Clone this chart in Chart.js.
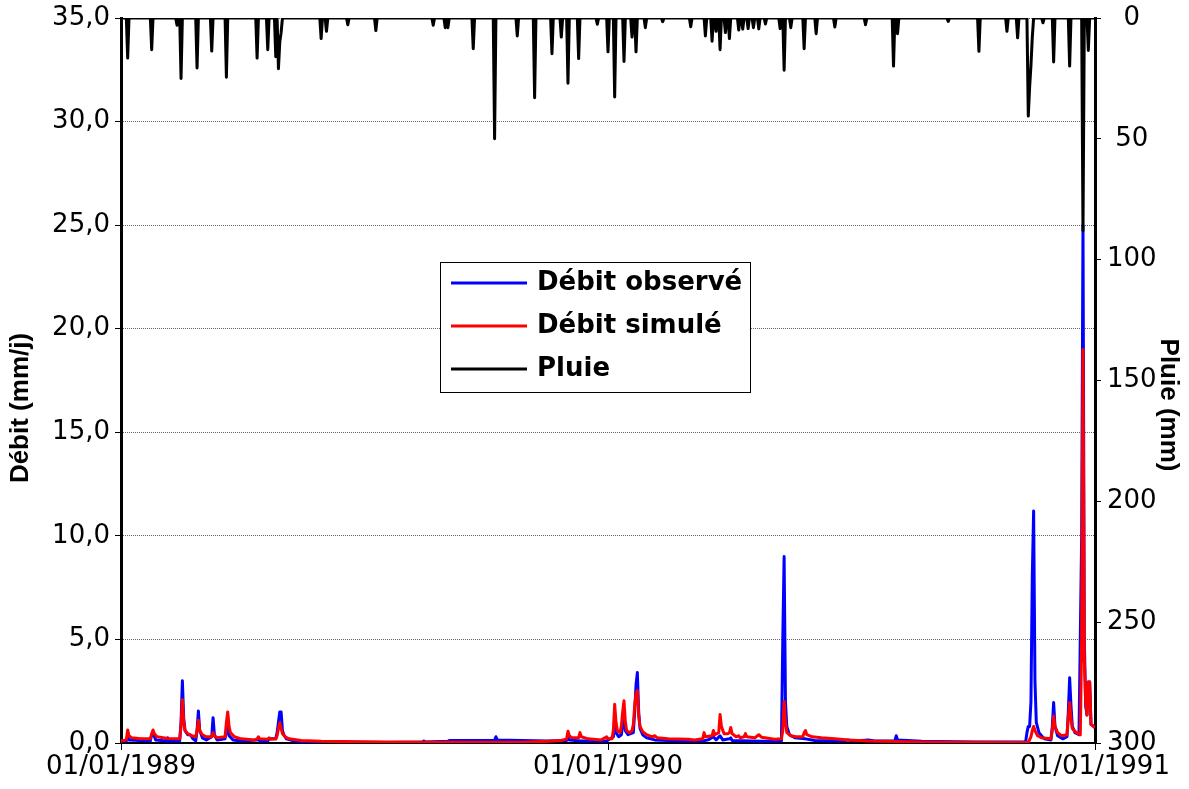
<!DOCTYPE html>
<html>
<head>
<meta charset="utf-8">
<title>Débit et pluie 1989-1990</title>
<script src="https://cdn.jsdelivr.net/npm/chart.js"></script>
<style>
  html, body { margin: 0; padding: 0; background: #fff; }
  canvas { display: block; }
</style>
</head>
<body>
<canvas id="graphe" width="1189" height="789"></canvas>
<script>
// jours comptés depuis le 01/01/1989
const joursDates = [0, 365, 730];
const etiquettesDates = ['01/01/1989', '01/01/1990', '01/01/1991'];

// débit observé (mm/j) : [jour, valeur]
const debitObserve = [
  [0,0.1],[4,0.1],[5,0.3],[6,0.15],[22,0.1],[23,0.4],[24,0.5],[26,0.15],[34,0.1],[35,0.25],[36,0.1],
  [44,0.1],[45,1.0],[46,3.0],[47,1.2],[48,0.6],[50,0.4],[52,0.4],[54,0.2],[56,0.1],[57,0.6],[58,1.55],
  [59,0.6],[61,0.25],[64,0.15],[68,0.3],[69,1.22],[70,0.4],[72,0.15],[78,0.2],[79,0.6],[80,0.75],[81,0.35],
  [84,0.15],[90,0.1],[102,0.15],[103,0.2],[104,0.1],[110,0.1],[111,0.2],[116,0.2],[117,0.5],[118,1.0],
  [119,1.5],[120,1.5],[121,0.6],[122,0.4],[124,0.2],[130,0.1],[140,0.05],[150,0.04],[200,0.03],[226,0.05],
  [227,0.1],[228,0.05],[245,0.08],[246,0.12],[260,0.12],[280,0.12],[281,0.3],[282,0.15],[300,0.12],
  [320,0.1],[334,0.12],[335,0.3],[336,0.15],[345,0.1],[364,0.1],[369,0.3],[370,0.85],[371,0.5],[373,0.3],
  [375,0.4],[376,0.9],[377,1.35],[378,0.6],[380,0.4],[384,0.5],[385,1.5],[386,2.8],[387,3.4],[388,1.5],
  [389,0.7],[391,0.4],[394,0.25],[400,0.15],[420,0.1],[436,0.1],[440,0.15],[444,0.3],[446,0.15],[449,0.35],
  [451,0.15],[456,0.2],[457,0.25],[458,0.12],[480,0.08],[495,0.1],[496,5.0],[497,9.0],[498,2.0],[499,0.8],
  [501,0.4],[505,0.25],[513,0.2],[520,0.12],[540,0.1],[545,0.15],[550,0.1],[560,0.15],[565,0.1],[580,0.1],
  [581,0.35],[582,0.15],[600,0.08],[640,0.05],[678,0.05],[679,0.5],[680,0.8],[681,0.8],[682,2.0],[683,8.0],
  [684,11.2],[685,3.0],[686,1.0],[688,0.5],[692,0.2],[697,0.15],[698,0.8],[699,1.95],[700,0.8],[702,0.35],
  [706,0.2],[709,0.3],[710,1.5],[711,3.15],[712,1.8],[713,0.8],[715,0.5],[718,0.4],[720,10.0],[721,25.0],
  [722,5.0],[723,1.8],[724,1.35],[725,2.95],[726,2.95],[727,0.9],[730,0.75]
];

// débit simulé (mm/j) : [jour, valeur]
const debitSimule = [
  [0,0.1],[4,0.15],[5,0.63],[6,0.35],[8,0.25],[15,0.2],[22,0.2],[23,0.45],[24,0.63],[25,0.45],[27,0.3],
  [35,0.22],[44,0.2],[45,0.8],[46,2.1],[47,1.0],[48,0.6],[50,0.45],[53,0.35],[56,0.3],[57,0.6],[58,1.1],
  [59,0.6],[61,0.4],[64,0.3],[68,0.3],[69,0.5],[70,0.35],[72,0.25],[78,0.3],[79,1.0],[80,1.5],[81,0.8],
  [82,0.5],[85,0.3],[90,0.2],[100,0.15],[102,0.2],[103,0.3],[104,0.2],[110,0.18],[111,0.25],[112,0.18],
  [116,0.2],[117,0.35],[118,0.7],[119,0.98],[120,0.7],[121,0.45],[123,0.3],[126,0.2],[135,0.12],[150,0.08],
  [200,0.05],[260,0.04],[300,0.04],[320,0.08],[330,0.12],[334,0.2],[335,0.57],[336,0.35],[338,0.25],
  [343,0.25],[344,0.5],[345,0.3],[350,0.2],[360,0.15],[364,0.3],[365,0.2],[368,0.2],[369,0.6],[370,1.87],
  [371,1.0],[372,0.6],[374,0.5],[375,0.8],[376,1.5],[377,2.04],[378,1.0],[379,0.6],[381,0.5],[383,0.6],
  [384,0.9],[385,1.8],[386,2.4],[387,2.53],[388,1.3],[389,0.8],[391,0.55],[394,0.4],[398,0.3],[400,0.35],
  [402,0.25],[410,0.2],[425,0.18],[430,0.15],[436,0.2],[437,0.5],[438,0.3],[443,0.35],[444,0.6],[445,0.4],
  [448,0.5],[449,1.38],[450,0.8],[452,0.45],[455,0.45],[456,0.5],[457,0.75],[458,0.45],[461,0.3],[463,0.35],
  [464,0.25],[467,0.3],[468,0.45],[469,0.3],[475,0.25],[478,0.4],[480,0.28],[490,0.18],[495,0.2],[496,0.6],
  [497,2.0],[498,1.0],[499,0.5],[502,0.35],[506,0.3],[511,0.3],[512,0.5],[513,0.6],[514,0.4],[518,0.3],
  [525,0.25],[535,0.2],[545,0.15],[560,0.1],[600,0.05],[680,0.03],[682,0.3],[683,0.6],[684,0.8],[685,0.6],
  [687,0.35],[690,0.25],[697,0.2],[698,0.6],[699,1.3],[700,0.8],[702,0.5],[705,0.35],[709,0.4],[710,1.2],
  [711,1.95],[712,1.2],[713,0.7],[716,0.5],[719,0.4],[720,5.0],[721,19.0],[722,4.0],[723,2.0],[724,1.35],
  [725,2.95],[726,2.95],[727,0.9],[730,0.75]
];

// pluie journalière (mm) : [jour, hauteur], les autres jours sont secs
const pluie = [
  [5,16.6],[23,13.1],[42,3],[45,25],[57,20.7],[68,13.7],[79,24.5],[102,16.6],[110,13.1],[116,16],[118,21],
  [119,10],[120,6],[150,8.5],[154,5.5],[170,2.8],[191,5.2],[234,3],[243,4],[245,4],[264,12.7],[280,50],
  [297,7.4],[310,33],[323,14.8],[330,7.9],[335,27],[343,16.8],[357,2.6],[365,14],[370,32.7],[377,18],
  [383,7.9],[386,14],[393,4],[406,1.5],[427,3.6],[438,7.4],[443,9.6],[446,5.5],[449,13.1],[453,6],[456,8.5],
  [463,5],[466,4.6],[470,4.4],[474,4],[478,4.5],[483,2.5],[494,4.4],[497,21.6],[502,4],[512,12.7],[521,6.5],
  [535,3.7],[558,2.8],[579,19.9],[582,6.5],[620,1.4],[643,13.8],[664,5.5],[672,8.2],[680,40.6],[681,28.6],
  [682,19.6],[683,8],[691,2],[699,18.2],[711,19.9],[721,88],[725,13.4]
];

const enPoints = serie => serie.map(([x, y]) => ({ x, y }));

// série journalière complète pour la pluie
const pluieParJour = new Map(pluie);
const pluieJournaliere = [];
for (let j = 0; j <= 730; j++) {
  pluieJournaliere.push({ x: j, y: pluieParJour.get(j) || 0 });
}

const virgule = v => v.toFixed(1).replace('.', ',');

// les axes verticaux gardent une largeur fixe, sans marge pour leurs étiquettes
const largeurFixe = largeur => scale => {
  scale.width = largeur;
  scale.paddingTop = 0;
  scale.paddingBottom = 0;
};

// légende encadrée au milieu du graphique
const legendeEncadree = {
  id: 'legendeEncadree',
  afterDraw(chart) {
    const ctx = chart.ctx;
    const x = 440, y = 262, w = 310, h = 130;
    ctx.save();
    ctx.fillStyle = '#fff';
    ctx.fillRect(x, y, w, h);
    ctx.strokeStyle = '#000';
    ctx.lineWidth = 1;
    ctx.strokeRect(x + 0.5, y + 0.5, w, h);
    ctx.font = 'bold 26px "DejaVu Sans"';
    ctx.textBaseline = 'middle';
    ctx.textAlign = 'left';
    chart.data.datasets.forEach((ds, k) => {
      const ly = y + 21 + k * 43;
      ctx.strokeStyle = ds.borderColor;
      ctx.lineWidth = 3;
      ctx.beginPath();
      ctx.moveTo(x + 11, ly);
      ctx.lineTo(x + 87, ly);
      ctx.stroke();
      ctx.fillStyle = '#000';
      ctx.fillText(ds.label, x + 97, ly);
    });
    ctx.restore();
  }
};

// titres des axes verticaux
const titresAxes = {
  id: 'titresAxes',
  afterDraw(chart) {
    const ctx = chart.ctx;
    ctx.save();
    ctx.font = 'bold 26px "Liberation Sans"';
    ctx.fillStyle = '#000';
    ctx.textAlign = 'center';
    ctx.textBaseline = 'middle';
    ctx.translate(21, 408);
    ctx.rotate(-Math.PI / 2);
    ctx.fillText('Débit (mm/j)', 0, 0);
    ctx.restore();
    ctx.save();
    ctx.font = 'bold 26px "Liberation Sans"';
    ctx.fillStyle = '#000';
    ctx.textAlign = 'center';
    ctx.textBaseline = 'middle';
    ctx.translate(1168, 405);
    ctx.rotate(Math.PI / 2);
    ctx.fillText('Pluie (mm)', 0, 0);
    ctx.restore();
  }
};

Chart.defaults.font.family = '"DejaVu Sans"';
Chart.defaults.font.size = 26;
Chart.defaults.color = '#000';

new Chart(document.getElementById('graphe'), {
  type: 'line',
  data: {
    datasets: [
      {
        label: 'Débit observé',
        data: enPoints(debitObserve),
        borderColor: '#0000ff',
        borderWidth: 3,
        yAxisID: 'y',
        order: 2
      },
      {
        label: 'Débit simulé',
        data: enPoints(debitSimule),
        borderColor: '#ff0000',
        borderWidth: 3,
        yAxisID: 'y',
        order: 1
      },
      {
        label: 'Pluie',
        data: pluieJournaliere,
        borderColor: '#000000',
        borderWidth: 3,
        yAxisID: 'y2',
        order: 0
      }
    ]
  },
  options: {
    responsive: false,
    animation: false,
    layout: { padding: { top: 18, left: 0, right: 0, bottom: 0 } },
    elements: {
      point: { radius: 0 },
      line: { tension: 0, borderJoinStyle: 'round', fill: false }
    },
    plugins: {
      legend: { display: false },
      tooltip: { enabled: false }
    },
    scales: {
      x: {
        type: 'linear',
        min: 0,
        max: 730,
        afterBuildTicks: scale => { scale.ticks = joursDates.map(v => ({ value: v })); },
        afterFit: scale => { scale.height = 46; },
        ticks: {
          autoSkip: false,
          maxRotation: 0,
          padding: 2,
          callback: v => etiquettesDates[joursDates.indexOf(v)]
        },
        grid: { drawOnChartArea: false, tickLength: 7, tickColor: '#000' },
        border: { color: '#000', width: 2 }
      },
      y: {
        position: 'left',
        min: 0,
        max: 35,
        afterFit: largeurFixe(121),
        ticks: { stepSize: 5, padding: 5, callback: v => virgule(v) },
        grid: { color: '#666', lineWidth: 1, tickLength: 6, tickColor: '#000', tickBorderDash: [] },
        border: { color: '#000', width: 3, dash: [1, 1] }
      },
      y2: {
        position: 'right',
        reverse: true,
        min: 0,
        max: 300,
        afterFit: largeurFixe(94),
        ticks: { stepSize: 50, padding: 6, crossAlign: 'center' },
        grid: { drawOnChartArea: false, tickLength: 6, tickColor: '#000' },
        border: { color: '#000', width: 3 }
      }
    }
  },
  plugins: [legendeEncadree, titresAxes]
});
</script>
</body>
</html>
